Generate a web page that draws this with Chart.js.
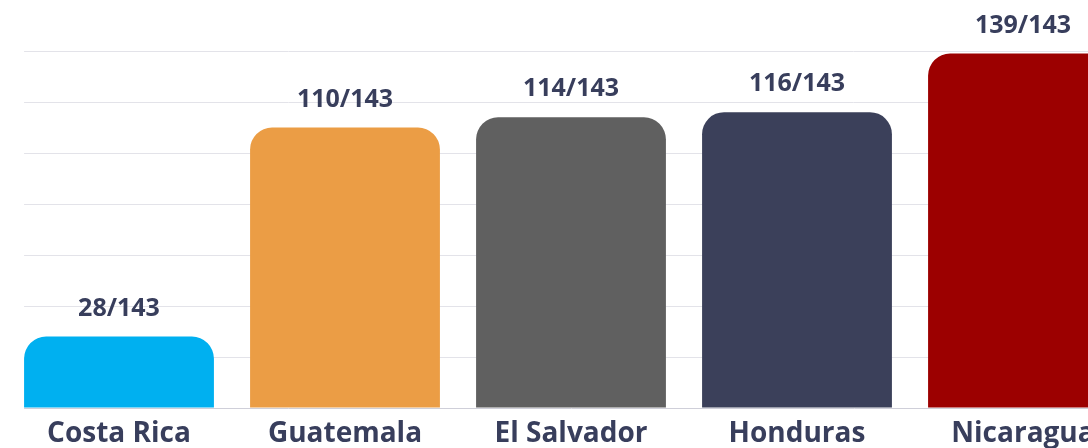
<!DOCTYPE html>
<html>
<head>
<meta charset="utf-8">
<script src="https://cdn.jsdelivr.net/npm/chart.js@4/dist/chart.umd.min.js"></script>
<style>
  html, body { margin: 0; padding: 0; background: #fff; overflow: hidden; }
  #wrap { width: 1136px; height: 448px; }
</style>
</head>
<body>
<div id="wrap"><canvas id="chart"></canvas></div>
<script>
"use strict";

// chart data
var countries = ["Costa Rica", "Guatemala", "El Salvador", "Honduras", "Nicaragua"];
var ranks = [28, 110, 114, 116, 139];
var total = 143;
var barColors = ["#00b0f0", "#eb9d45", "#606060", "#3b405a", "#9c0000"];
var yTicks = [0, 20, 40, 60, 80, 100, 120, 140, 160];

var textColor = "#383e5c";

// labels "rank/total" above each bar
var rankLabels = {
    id: "rankLabels",
    afterDatasetsDraw: function (chart) {
        var ctx = chart.ctx;
        var meta = chart.getDatasetMeta(0);
        ctx.save();
        ctx.font = "bold 25px 'Open Sans'";
        ctx.fillStyle = textColor;
        ctx.textAlign = "center";
        ctx.textBaseline = "middle";
        meta.data.forEach(function (bar, i) {
            ctx.fillText(ranks[i] + "/" + total, bar.x, bar.y - 28);
        });
        ctx.restore();
    }
};

// grid starts where the first bar starts
var trimGrid = {
    id: "trimGrid",
    beforeDatasetsDraw: function (chart) {
        var ctx = chart.ctx;
        var first = chart.getDatasetMeta(0).data[0];
        var area = chart.chartArea;
        var edge = first.x - first.width / 2;
        ctx.save();
        ctx.fillStyle = "#ffffff";
        ctx.fillRect(0, 0, edge, area.bottom + 3);
        ctx.restore();
    }
};

var chart = new Chart(document.getElementById("chart"), {
    type: "bar",
    data: {
        labels: countries,
        datasets: [{
            data: ranks,
            backgroundColor: barColors,
            borderRadius: { topLeft: 22, topRight: 22, bottomLeft: 0, bottomRight: 0 },
            borderSkipped: "bottom",
            barPercentage: 0.84,
            categoryPercentage: 1
        }]
    },
    options: {
        responsive: true,
        maintainAspectRatio: false,
        animation: false,
        layout: { padding: { left: 6, right: 0, top: 0, bottom: 0 } },
        plugins: {
            legend: { display: false },
            tooltip: { enabled: false }
        },
        scales: {
            x: {
                afterFit: function (axis) { axis.height = 40; },
                grid: { display: false },
                border: { display: true, color: "#cfcfd9", width: 1 },
                ticks: {
                    color: textColor,
                    padding: 3,
                    font: { family: "'Open Sans'", size: 28, weight: "bold", lineHeight: 1.1 },
                    maxRotation: 0,
                    autoSkip: false
                }
            },
            y: {
                min: yTicks[0],
                max: yTicks[yTicks.length - 1],
                afterBuildTicks: function (axis) {
                    axis.ticks = yTicks.map(function (v) { return { value: v }; });
                },
                border: { display: false },
                grid: {
                    drawTicks: false,
                    lineWidth: 1,
                    color: function (c) {
                        var v = c.tick ? c.tick.value : 0;
                        if (v === 0 || v === yTicks[yTicks.length - 1]) return "rgba(0,0,0,0)";
                        return "#e3e3e9";
                    }
                },
                ticks: { display: false }
            }
        }
    },
    plugins: [trimGrid, rankLabels]
});
</script>
</body>
</html>
